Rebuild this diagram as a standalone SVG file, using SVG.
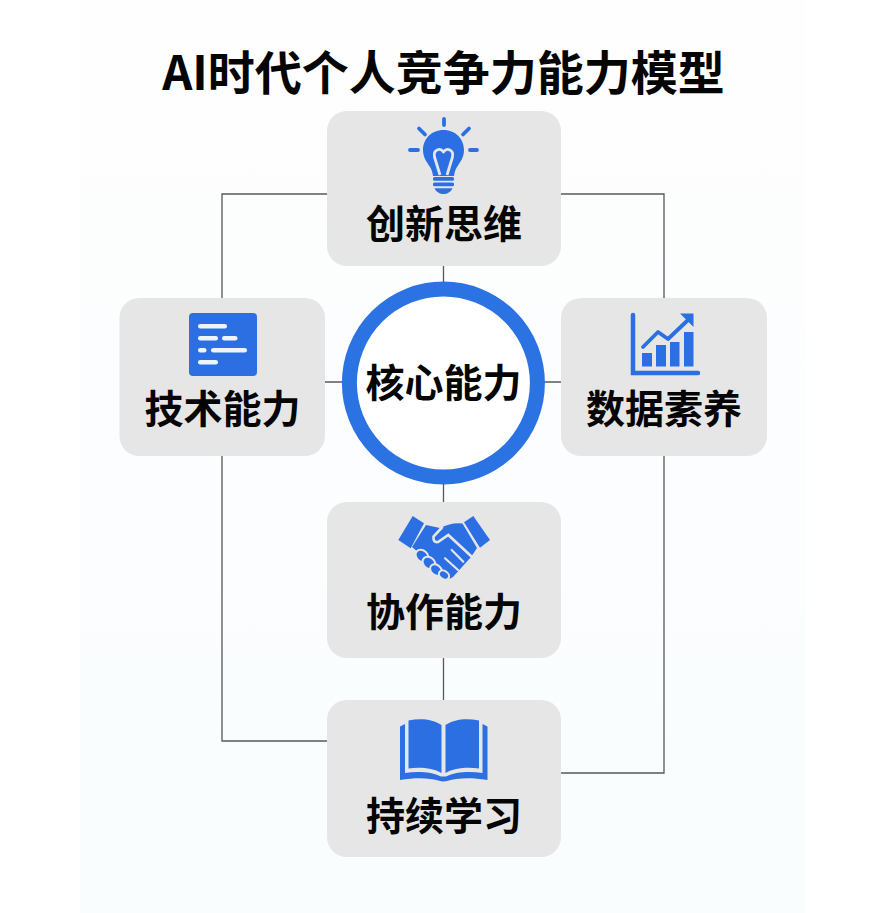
<svg xmlns="http://www.w3.org/2000/svg" width="869" height="913" viewBox="0 0 869 913">
<style>
.card{fill:#e6e6e6}
.lbl{font-family:"Noto Sans CJK SC","Noto Sans",sans-serif;font-weight:700;fill:#050505;text-anchor:middle}
.node{font-size:39px}
.conn{fill:none;stroke:#55585c;stroke-width:1.3}
.ic{fill:#2b6fe3}
.st{fill:none;stroke:#2b6fe3;stroke-linecap:round}
.cut{fill:none;stroke:#e6e6e6;stroke-linecap:round}
</style>
<defs><linearGradient id="bg" x1="0" y1="0" x2="0" y2="1"><stop offset="0" stop-color="#fefefe"/><stop offset="0.45" stop-color="#fcfdfe"/><stop offset="1" stop-color="#f9fdfe"/></linearGradient></defs>
<rect width="869" height="913" fill="#ffffff"/>
<rect x="80" y="0" width="725" height="913" fill="url(#bg)"/>
<text id="title" x="443.5" y="90" class="lbl" font-size="47">AI时代个人竞争力能力模型</text>
<g id="connectors" class="conn">
<path d="M327 194H222V298M222 456V741H327M561 194H664V298M664 456V773H561"/>
<path d="M443.500 266V284M443.500 484V502M443.500 658V700M325 382H344M543 382H561"/>
</g>
<g id="node-innovation">
<rect class="card" x="327" y="111" width="234" height="155" rx="20"/>
<g class="st" stroke-width="3.800"><path d="M444 119V125M419 128.500L425 134.500M469 128.500L463 134.500M410 150H418M470 150H477"/></g>
<path class="ic" d="M443.500 130C431 130 423 139.500 423 150C423 158 427 162 430 167C432 170 432.500 173 433 176H454C454.500 173 455 170 457 167C460 162 464 158 464 150C464 139.500 456 130 443.500 130Z"/>
<path d="M440 175L434.500 157C433 150 440 147 443.500 152C447 147 454 150 452.500 157L447 175" fill="none" stroke="#e6e6e6" stroke-width="2.800" stroke-linejoin="round"/>
<rect class="ic" x="433" y="177" width="21" height="3.800" rx="1.500"/><rect class="ic" x="433" y="182.500" width="21" height="3.800" rx="1.500"/>
<path class="ic" d="M434.500 188.200H452.500C451 192 447 194 443.500 194C440 194 436 192 434.500 188.200Z"/>
<text x="444" y="238" class="lbl node">创新思维</text>
</g>
<g id="node-tech">
<rect class="card" x="119.500" y="298" width="205.500" height="158" rx="20"/>
<rect class="ic" x="189" y="313" width="68" height="63" rx="4"/>
<g fill="#eef3fd"><rect x="198" y="324" width="29" height="4.500" rx="2.200"/><rect x="198" y="336" width="20" height="4.500" rx="2.200"/><rect x="222" y="336" width="15.500" height="4.500" rx="2.200"/><rect x="198" y="348" width="8.500" height="4.500" rx="2.200"/><rect x="211" y="348" width="36" height="4.500" rx="2.200"/><rect x="198" y="360" width="20" height="4.500" rx="2.200"/></g>
<text x="222.500" y="423" class="lbl node">技术能力</text>
</g>
<g id="node-data">
<rect class="card" x="561" y="298" width="206" height="158" rx="20"/>
<path class="st" stroke-width="4.500" d="M633 315V373H698"/>
<rect class="ic" x="642" y="353" width="10" height="13.500"/><rect class="ic" x="656" y="345" width="10" height="21.500"/><rect class="ic" x="670" y="342" width="9.500" height="24.500"/><rect class="ic" x="684" y="332" width="9.500" height="34.500"/>
<path class="st" stroke-width="3.800" stroke-linejoin="round" d="M643 347L658 332L668 339L688 320"/>
<path class="ic" d="M680 313.500H693.500V327Z"/>
<text x="664" y="423" class="lbl node">数据素养</text>
</g>
<g id="node-core">
<circle cx="443.400" cy="383" r="94" fill="#fff" stroke="#2b72e2" stroke-width="15"/>
<text x="443.500" y="396.500" class="lbl node">核心能力</text>
</g>
<g id="node-collab">
<rect class="card" x="327" y="502" width="234" height="156" rx="20"/>
<path class="ic" d="M412.700 516L424 523.300L410.700 548.300L398.300 540Z"/>
<path class="ic" d="M473.300 516L464 522.300L480 547.700L490 540Z"/>
<path class="ic" d="M426 525L440 528Q452 522 462.500 523.500L477 548L471 557L453 577Q449 580 446 578L432 563L418 552L412 547Z"/>
<g class="cut">
<path stroke-width="2.600" d="M442 527.500L433.500 536.500Q433 543 438 542L448.300 535L471 556"/>
<path stroke-width="2.200" d="M451.700 550L463.300 561.700M445 558.300L458 570"/>
</g>
<g class="ic" stroke="#e6e6e6" stroke-width="2">
<ellipse cx="422" cy="556" rx="7" ry="5.500" transform="rotate(40 422 556)"/>
<ellipse cx="429" cy="563" rx="7" ry="5.500" transform="rotate(40 429 563)"/>
<ellipse cx="436" cy="570" rx="6.500" ry="5" transform="rotate(40 436 570)"/>
<ellipse cx="444" cy="575" rx="5.500" ry="4" transform="rotate(35 444 575)"/>
</g>
<text x="444" y="626" class="lbl node">协作能力</text>
</g>
<g id="node-learn">
<rect class="card" x="327" y="700" width="234" height="157" rx="20"/>
<path class="ic" d="M408.500 720.500C420 718 433 719 441.500 725V773C433 768 420 767 408.500 768.500Z"/>
<path class="ic" d="M445.500 725C454 719 467 718 479 720.500V768.500C467 767 454 768 445.500 773Z"/>
<path class="ic" d="M400 726.500L405 724V773C418 771 432 772 441 776.500H446C455 772 469 771 482.500 773V724L487.500 726.500V780C472 777.500 458 777.500 447 781C445 781.500 442 781.500 440 781C429 777.500 415 777.500 400 780Z"/>
<text x="444" y="830" class="lbl node">持续学习</text>
</g>
</svg>
